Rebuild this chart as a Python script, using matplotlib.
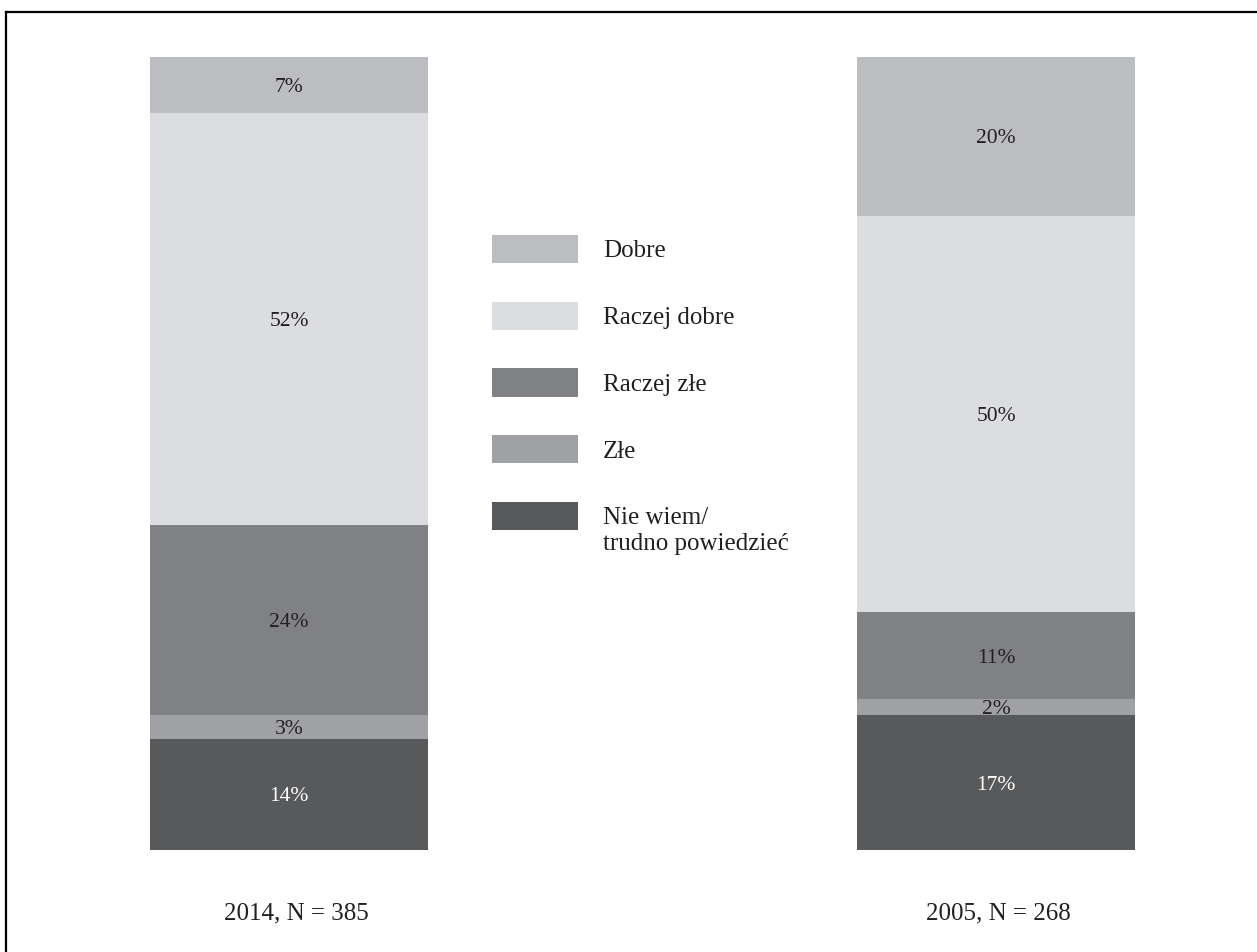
import matplotlib
matplotlib.use("Agg")
import matplotlib.pyplot as plt
from matplotlib.patches import Patch
from matplotlib.lines import Line2D
from matplotlib.legend_handler import HandlerPatch
import numpy as np

plt.rcParams['font.family'] = ['Liberation Serif', 'DejaVu Serif']

groups = ["2014, N = 385", "2005, N = 268"]
categories = ["Nie wiem/\ntrudno powiedzieć", "Złe", "Raczej złe", "Raczej dobre", "Dobre"]
values = {
    "Nie wiem/\ntrudno powiedzieć": [14, 17],
    "Złe": [3, 2],
    "Raczej złe": [24, 11],
    "Raczej dobre": [52, 50],
    "Dobre": [7, 20],
}
colors = {
    "Nie wiem/\ntrudno powiedzieć": "#58595b",
    "Złe": "#a0a1a4",
    "Raczej złe": "#808184",
    "Raczej dobre": "#dcdde0",
    "Dobre": "#bcbdc0",
}
label_colors = {
    "Nie wiem/\ntrudno powiedzieć": "white",
    "Złe": "#231f20",
    "Raczej złe": "#231f20",
    "Raczej dobre": "#231f20",
    "Dobre": "#231f20",
}
legend_order = ["Dobre", "Raczej dobre", "Raczej złe", "Złe", "Nie wiem/\ntrudno powiedzieć"]

W, H = 1257, 952
fig = plt.figure(figsize=(W / 100, H / 100), dpi=100)
fig.patch.set_facecolor("white")

bw = 0.393
left_px, right_px, top_px, bot_px = 150, 1135, 57, 850
ax = fig.add_axes([left_px / W, (H - bot_px) / H, (right_px - left_px) / W, (bot_px - top_px) / H])
x = np.arange(len(groups))
bottom = np.zeros(len(groups))
for cat in categories:
    vals = np.array(values[cat], dtype=float)
    ax.bar(x, vals, bw, bottom=bottom, color=colors[cat], edgecolor="none", label=cat)
    for xi, b, v in zip(x, bottom, vals):
        ax.text(xi, b + v / 2, f"{int(v)}%", ha="center", va="center_baseline",
                fontsize=15.5, color=label_colors[cat])
    bottom += vals

ax.set_xlim(-bw / 2, 1 + bw / 2)
ax.set_ylim(0, 100)
ax.set_xticks(x + np.array([0.01, 0.003]))
ax.set_xticklabels(groups, fontsize=18, color="#231f20")
ax.tick_params(axis="x", length=0, pad=38)
ax.set_yticks([])
for s in ax.spines.values():
    s.set_visible(False)

SWATCH_SHIFT_PT = 11.0   # lift swatch to the first text line
EXTRA_ROW_PT = 10.8      # extra room above the two-line entry


class FirstLineHandler(HandlerPatch):
    """Swatch aligned with the first line of a two-line label."""
    def legend_artist(self, legend, orig_handle, fontsize, handlebox):
        artist = super().legend_artist(legend, orig_handle, fontsize, handlebox)
        artist.set_y(artist.get_y() + SWATCH_SHIFT_PT)
        handlebox.height += EXTRA_ROW_PT
        return artist


handles = [Patch(facecolor=colors[c], edgecolor="none") for c in legend_order]
handler_map = {handles[-1]: FirstLineHandler()}
fig.legend(handles, legend_order, loc="upper left",
           bbox_to_anchor=(492 / W, 1 - 235 / H),
           frameon=False, fontsize=18, handlelength=3.45, handleheight=1.36,
           handletextpad=1.0, labelspacing=1.54, borderpad=0, borderaxespad=0,
           labelcolor="#231f20", handler_map=handler_map)

fig.add_artist(Line2D([6 / W, 1], [1 - 12 / H, 1 - 12 / H], color="black", lw=1.6,
                      transform=fig.transFigure))
fig.add_artist(Line2D([6 / W, 6 / W], [0, 1 - 12 / H], color="black", lw=1.6,
                      transform=fig.transFigure))

fig.savefig("out.png", dpi=100, facecolor="white")
